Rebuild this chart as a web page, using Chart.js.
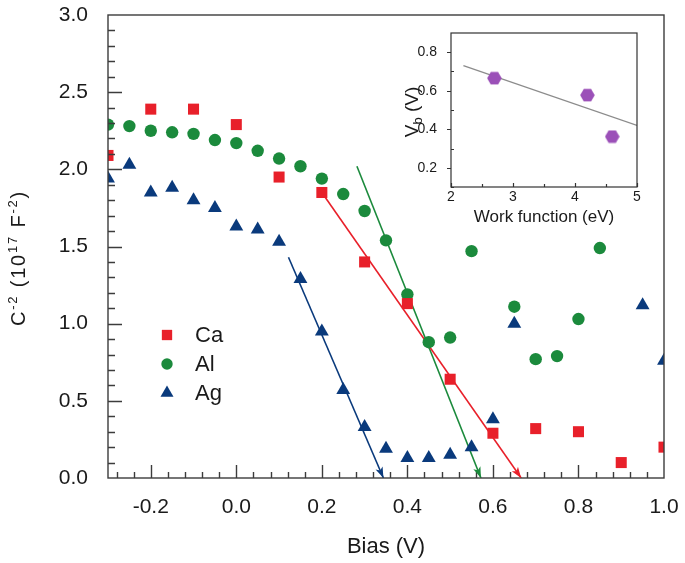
<!DOCTYPE html>
<html>
<head>
<meta charset="utf-8">
<script src="https://cdn.jsdelivr.net/npm/chart.js@4.4.1/dist/chart.umd.min.js"></script>
<style>
  body { margin: 0; background: #fff; }
  #wrap { position: relative; width: 685px; height: 563px; }
  #inset { position: absolute; left: 380px; top: 15px; }
</style>
</head>
<body>
<div id="wrap">
  <canvas id="main" width="685" height="563"></canvas>
  <canvas id="inset" width="270" height="215"></canvas>
</div>
<script>
// dati: C^-2 contro bias per i tre catodi
const caBias = [-0.3, -0.2, -0.1, 0.0, 0.1, 0.2, 0.3, 0.4, 0.5, 0.6, 0.7, 0.8, 0.9, 1.0];
const caC2   = [2.09, 2.39, 2.39, 2.29, 1.95, 1.85, 1.40, 1.13, 0.64, 0.29, 0.32, 0.30, 0.10, 0.20];

const alBias = [-0.3, -0.25, -0.2, -0.15, -0.1, -0.05, 0.0, 0.05, 0.1, 0.15, 0.2, 0.25, 0.3, 0.35, 0.4, 0.45, 0.5, 0.55, 0.65, 0.7, 0.75, 0.8, 0.85];
const alC2   = [2.29, 2.28, 2.25, 2.24, 2.23, 2.19, 2.17, 2.12, 2.07, 2.02, 1.94, 1.84, 1.73, 1.54, 1.19, 0.88, 0.91, 1.47, 1.11, 0.77, 0.79, 1.03, 1.49];

const agBias = [-0.3, -0.25, -0.2, -0.15, -0.1, -0.05, 0.0, 0.05, 0.1, 0.15, 0.2, 0.25, 0.3, 0.35, 0.4, 0.45, 0.5, 0.55, 0.6, 0.65, 0.95, 1.0];
const agC2   = [1.94, 2.03, 1.85, 1.88, 1.80, 1.75, 1.63, 1.61, 1.53, 1.29, 0.95, 0.57, 0.33, 0.19, 0.13, 0.13, 0.15, 0.20, 0.38, 1.00, 1.12, 0.76];

// rette di fit (con freccia in fondo)
const caFitX = [0.2, 0.666];
const caFitY = [1.85, 0.0];
const alFitX = [0.282, 0.572];
const alFitY = [2.02, 0.0];
const agFitX = [0.122, 0.344];
const agFitY = [1.43, 0.0];

// tick principali
const xTicks = [-0.2, 0.0, 0.2, 0.4, 0.6, 0.8, 1.0];
const yTicks = [0.0, 0.5, 1.0, 1.5, 2.0, 2.5, 3.0];

// inset: Vb contro funzione lavoro
const wfX = [2.7, 4.2, 4.6];
const vbY = [0.665, 0.577, 0.362];
const wfFitX = [2.2, 5.0];
const vbFitY = [0.73, 0.42];
const insetXTicks = [2, 3, 4, 5];
const insetYTicks = [0.2, 0.4, 0.6, 0.8];

const red = '#e8202a';
const green = '#1b8a3c';
const navy = '#0a3a7c';
const purple = '#9b50b8';
const ink = '#1a1a1a';
const FONT = "'Liberation Sans', Arial, sans-serif";

const pts = (xs, ys) => xs.map((x, i) => ({ x: x, y: ys[i] }));
const fmt1 = v => (Math.abs(v) < 1e-9 ? 0 : v).toFixed(1);
const noPad = s => { s.paddingLeft = 0; s.paddingRight = 0; s.paddingTop = 0; s.paddingBottom = 0; };

// scrive testo ruotato con apici/pedici: parti = [testo, dimensione, spostamento]
function richText(ctx, parts, cx, cy, spacing) {
  ctx.save();
  ctx.translate(cx, cy);
  ctx.rotate(-Math.PI / 2);
  ctx.fillStyle = ink;
  ctx.textBaseline = 'alphabetic';
  const gap = spacing || 0;
  let w = 0;
  parts.forEach(p => { ctx.font = p[1] + 'px ' + FONT; w += ctx.measureText(p[0]).width + gap * p[0].length; });
  let x0 = -w / 2;
  parts.forEach(p => {
    ctx.font = p[1] + 'px ' + FONT;
    for (const ch of p[0]) {
      ctx.fillText(ch, x0, p[2]);
      x0 += ctx.measureText(ch).width + gap;
    }
  });
  ctx.restore();
}

// cornice + tacche verso l'interno + titolo asse y
const frameTicks = {
  id: 'frameTicks',
  afterDatasetsDraw(chart) {
    const { ctx, chartArea: a, scales: { x, y } } = chart;
    ctx.save();
    ctx.strokeStyle = '#3c3c3c';
    ctx.lineWidth = 1.4;
    ctx.beginPath();
    for (let i = 0; i <= 31; i++) {
      const v = -0.28 + i * 0.04;
      const major = Math.abs(v / 0.2 - Math.round(v / 0.2)) < 1e-6;
      const px = Math.round(x.getPixelForValue(v)) + 0.5;
      ctx.moveTo(px, a.bottom);
      ctx.lineTo(px, a.bottom - (major ? 13 : 6));
    }
    for (let i = 1; i <= 29; i++) {
      const v = i * 0.1;
      const major = i % 5 === 0;
      const py = Math.round(y.getPixelForValue(v)) + 0.5;
      ctx.moveTo(a.left, py);
      ctx.lineTo(a.left + (major ? 14 : 7), py);
    }
    ctx.stroke();
    ctx.strokeRect(a.left, a.top, a.width, a.height);
    ctx.restore();
    richText(ctx, [['C', 20, 0], ['-2', 13, -8], [' (10', 20, 0], ['17', 13, -8], [' F', 20, 0], ['-2', 13, -8], [')', 20, 0]], 25, 258, 1.8);
  }
};

// punte di freccia alla fine delle rette
const arrowHeads = {
  id: 'arrowHeads',
  afterDatasetsDraw(chart) {
    const ctx = chart.ctx;
    chart.data.datasets.forEach((ds, i) => {
      if (!ds.arrow) return;
      const el = chart.getDatasetMeta(i).data;
      const p0 = el[el.length - 2], p1 = el[el.length - 1];
      const ang = Math.atan2(p1.y - p0.y, p1.x - p0.x);
      const L = 11, W = 3.8;
      const c = Math.cos(ang), s = Math.sin(ang);
      ctx.save();
      ctx.fillStyle = ds.borderColor;
      ctx.beginPath();
      ctx.moveTo(p1.x, p1.y);
      ctx.lineTo(p1.x - L * c + W * s, p1.y - L * s - W * c);
      ctx.lineTo(p1.x - 0.75 * L * c, p1.y - 0.75 * L * s);
      ctx.lineTo(p1.x - L * c - W * s, p1.y - L * s + W * c);
      ctx.closePath();
      ctx.fill();
      ctx.restore();
    });
  }
};

// legenda dentro l'area del grafico
const innerLegend = {
  id: 'innerLegend',
  afterDraw(chart) {
    const { ctx, chartArea: a } = chart;
    const items = chart.data.datasets.filter(d => !d.arrow);
    ctx.save();
    items.forEach((ds, i) => {
      const mx = a.left + 59, my = a.top + 320 + i * 29;
      ctx.fillStyle = ds.backgroundColor;
      Chart.helpers.drawPoint(ctx, { pointStyle: ds.pointStyle, radius: ds.pointRadius - 0.5, rotation: 0, borderWidth: 0 }, mx, my);
      ctx.fillStyle = ink;
      ctx.font = '22px ' + FONT;
      ctx.textBaseline = 'middle';
      ctx.fillText(ds.label, mx + 28, my + 1);
    });
    ctx.restore();
  }
};

new Chart(document.getElementById('main'), {
  type: 'scatter',
  data: {
    datasets: [
      { label: 'Ca', data: pts(caBias, caC2), pointStyle: 'rect', pointRadius: 7.8, backgroundColor: red, borderWidth: 0, clip: 0 },
      { label: 'Al', data: pts(alBias, alC2), pointStyle: 'circle', pointRadius: 6.2, backgroundColor: green, borderWidth: 0, clip: 0 },
      { label: 'Ag', data: pts(agBias, agC2), pointStyle: 'triangle', pointRadius: 8, backgroundColor: navy, borderWidth: 0, clip: 0 },
      { label: 'Ca fit', data: pts(caFitX, caFitY), showLine: true, borderColor: red, borderWidth: 1.6, pointRadius: 0, arrow: true },
      { label: 'Al fit', data: pts(alFitX, alFitY), showLine: true, borderColor: green, borderWidth: 1.6, pointRadius: 0, arrow: true },
      { label: 'Ag fit', data: pts(agFitX, agFitY), showLine: true, borderColor: navy, borderWidth: 1.6, pointRadius: 0, arrow: true }
    ]
  },
  options: {
    responsive: false,
    devicePixelRatio: 1,
    animation: false,
    layout: { padding: { left: 0, top: 15, right: 21, bottom: 0 } },
    plugins: { legend: { display: false }, tooltip: { enabled: false } },
    scales: {
      x: {
        type: 'linear', min: -0.3, max: 1.0,
        grid: { display: false }, border: { display: false },
        afterFit(s) { s.height = 85; noPad(s); },
        afterBuildTicks(s) { s.ticks = xTicks.map(v => ({ value: v })); },
        ticks: { color: ink, font: { family: FONT, size: 21 }, padding: 9, maxRotation: 0, autoSkip: false, callback: fmt1 },
        title: { display: true, text: 'Bias (V)', color: ink, font: { family: FONT, size: 22 }, padding: { top: 0, bottom: 3 } }
      },
      y: {
        type: 'linear', min: 0, max: 3.0,
        grid: { display: false }, border: { display: false },
        afterFit(s) { s.width = 108; noPad(s); },
        afterBuildTicks(s) { s.ticks = yTicks.map(v => ({ value: v })); },
        ticks: { color: ink, font: { family: FONT, size: 21 }, padding: 12, autoSkip: false, callback: fmt1 }
      }
    }
  },
  plugins: [frameTicks, arrowHeads, innerLegend]
});

// esagono per i punti dell'inset
const hex = document.createElement('canvas');
hex.width = 15; hex.height = 14;
(function () {
  const c = hex.getContext('2d');
  c.fillStyle = purple;
  c.beginPath();
  for (let k = 0; k < 6; k++) {
    const a = Math.PI / 3 * k;
    const px = 7.5 + 7.3 * Math.cos(a), py = 7 + 7.3 * Math.sin(a);
    if (k === 0) c.moveTo(px, py); else c.lineTo(px, py);
  }
  c.closePath();
  c.fill();
})();

const insetFrame = {
  id: 'insetFrame',
  afterDatasetsDraw(chart) {
    const { ctx, chartArea: a, scales: { x, y } } = chart;
    ctx.save();
    ctx.strokeStyle = '#333';
    ctx.lineWidth = 1.2;
    ctx.beginPath();
    for (let i = 0; i <= 6; i++) {
      const v = 2 + i * 0.5;
      const px = Math.round(x.getPixelForValue(v)) + 0.5;
      ctx.moveTo(px, a.bottom);
      ctx.lineTo(px, a.bottom - (i % 2 === 0 ? 4 : 3));
    }
    for (let i = 1; i <= 8; i++) {
      const v = 0.1 * i;
      const py = Math.round(y.getPixelForValue(v)) + 0.5;
      if (i % 2 === 0) { ctx.moveTo(a.left - 4, py); ctx.lineTo(a.left, py); }
      else { ctx.moveTo(a.left, py); ctx.lineTo(a.left + 3, py); }
    }
    ctx.stroke();
    ctx.strokeRect(a.left, a.top, a.width, a.height);
    ctx.restore();
    richText(ctx, [['V', 19, 0], ['b', 13, 4], [' (V)', 19, 0]], 38, (a.top + a.bottom) / 2 + 2);
  }
};

new Chart(document.getElementById('inset'), {
  type: 'scatter',
  data: {
    datasets: [
      { label: 'Vb', data: pts(wfX, vbY), pointStyle: hex, backgroundColor: purple, borderWidth: 0 },
      { label: 'fit', data: pts(wfFitX, vbFitY), showLine: true, borderColor: '#8c8c8c', borderWidth: 1.3, pointRadius: 0 }
    ]
  },
  options: {
    responsive: false,
    devicePixelRatio: 1,
    animation: false,
    layout: { padding: { left: 0, top: 18, right: 13, bottom: 0 } },
    plugins: { legend: { display: false }, tooltip: { enabled: false } },
    scales: {
      x: {
        type: 'linear', min: 2, max: 5,
        grid: { display: false }, border: { display: false },
        afterFit(s) { s.height = 43; noPad(s); },
        afterBuildTicks(s) { s.ticks = insetXTicks.map(v => ({ value: v })); },
        ticks: { color: ink, font: { family: FONT, size: 14 }, padding: -6, maxRotation: 0, autoSkip: false },
        title: { display: true, text: 'Work function (eV)', color: ink, font: { family: FONT, size: 17 }, padding: { top: 0, bottom: 2 } }
      },
      y: {
        type: 'linear', min: 0.1, max: 0.9,
        grid: { display: false }, border: { display: false },
        afterFit(s) { s.width = 71; noPad(s); },
        afterBuildTicks(s) { s.ticks = insetYTicks.map(v => ({ value: v })); },
        ticks: { color: ink, font: { family: FONT, size: 14 }, padding: 6, autoSkip: false, callback: fmt1 }
      }
    }
  },
  plugins: [insetFrame]
});
</script>
</body>
</html>
